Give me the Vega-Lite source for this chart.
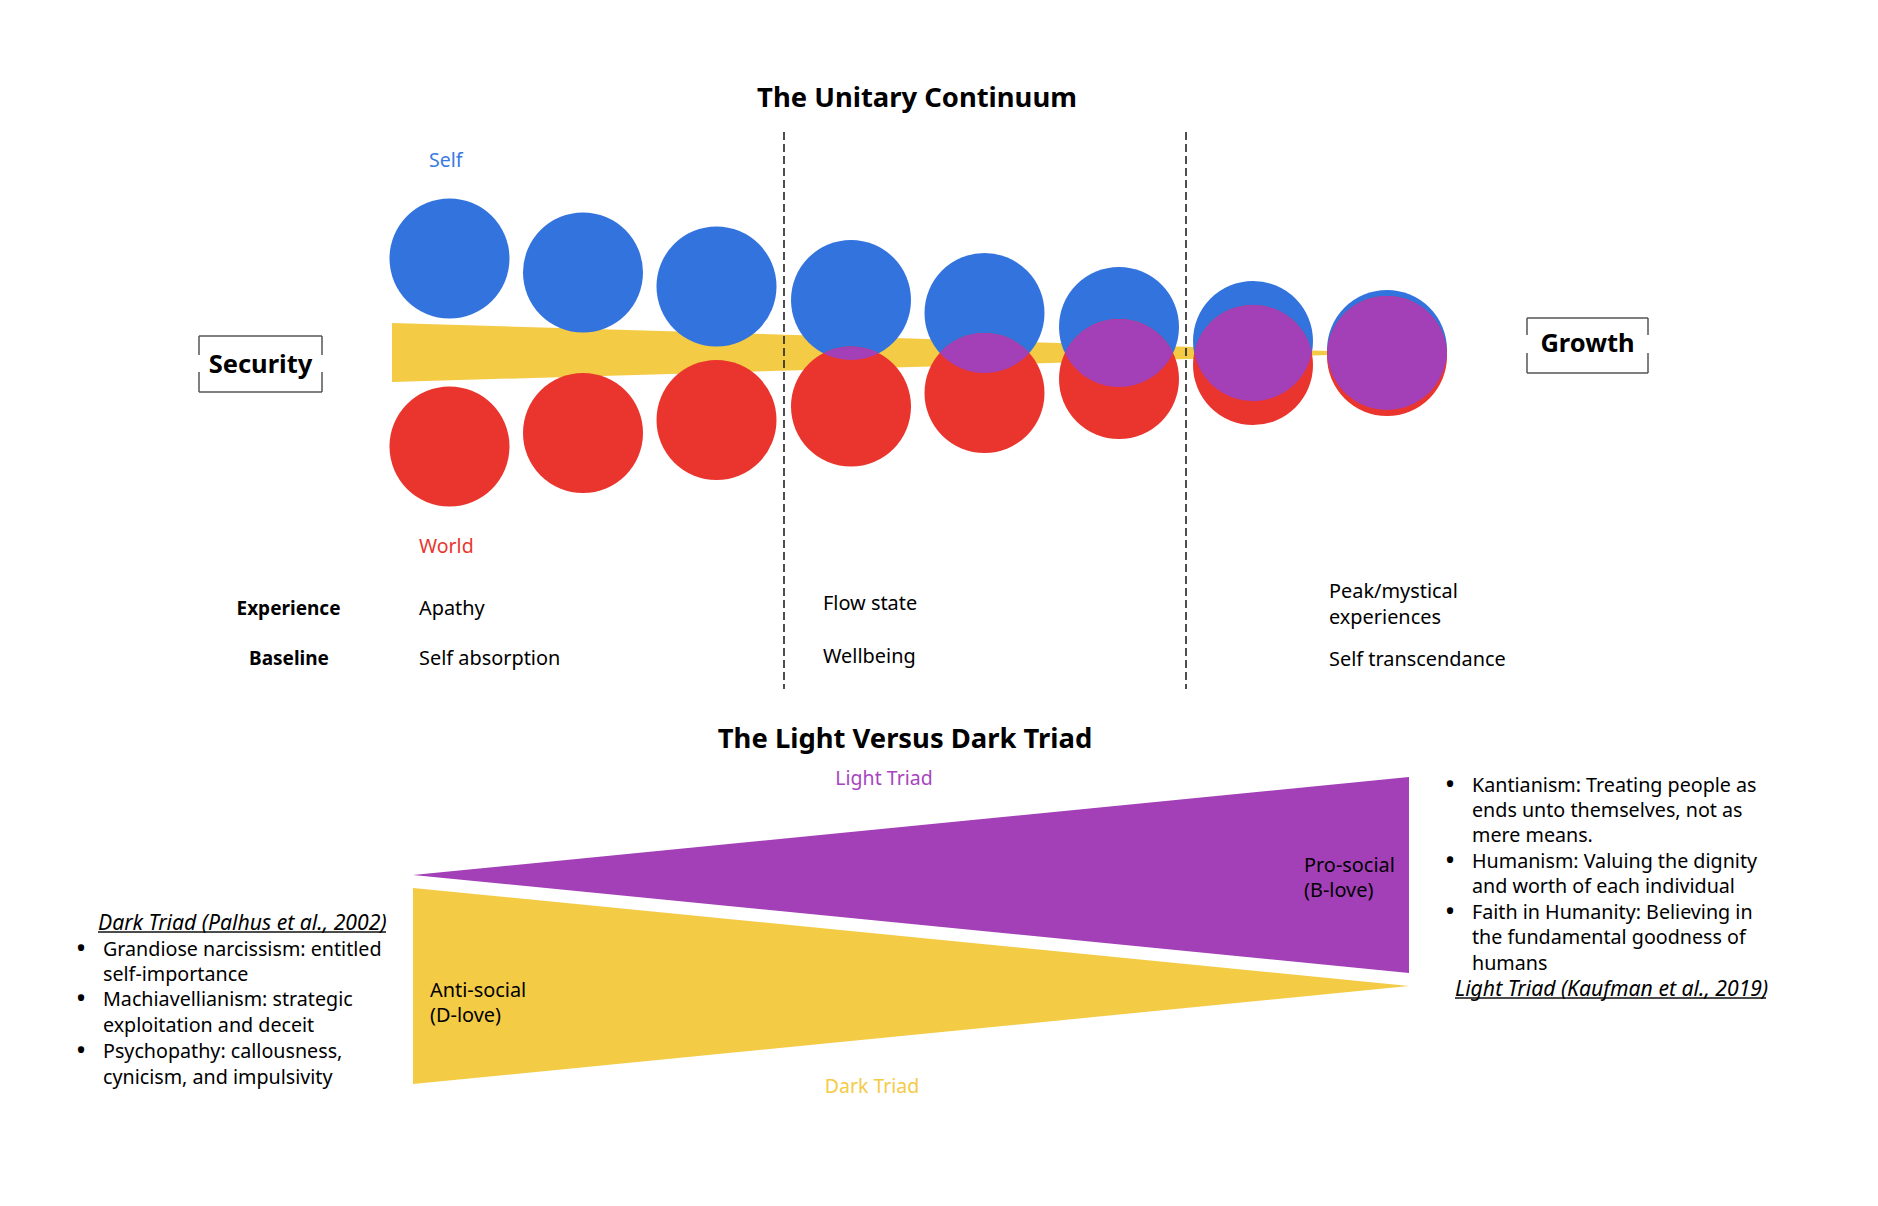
{
  "$schema": "https://vega.github.io/schema/vega-lite/v6.json",
  "width": 1878,
  "height": 1206,
  "autosize": {"type": "fit", "contains": "padding"},
  "padding": 0,
  "background": "white",
  "config": {"view": {"stroke": null}, "font": "Noto Sans"},
  "datasets": {
    "band": [
      {"x": 392, "top": 323, "bottom": 382},
      {"x": 1380, "top": 352.5, "bottom": 353.5}
    ],
    "light": [
      {"x": 413, "top": 875, "bottom": 875},
      {"x": 1409, "top": 777, "bottom": 973}
    ],
    "dark": [
      {"x": 413, "top": 888, "bottom": 1084},
      {"x": 1409, "top": 986, "bottom": 986}
    ],
    "circles": [
      {"stage": "s1", "x": 449.5, "self": 258.5, "world": 446.5},
      {"stage": "s2", "x": 583, "self": 272.5, "world": 433},
      {"stage": "s3", "x": 716.5, "self": 286.5, "world": 420},
      {"stage": "s4", "x": 851, "self": 300, "world": 406.5},
      {"stage": "s5", "x": 984.5, "self": 313, "world": 393},
      {"stage": "s6", "x": 1119, "self": 327, "world": 379},
      {"stage": "s7", "x": 1253, "self": 341, "world": 365},
      {"stage": "s8", "x": 1387, "self": 350, "world": 356}
    ],
    "overlaps": [
      {"stage": "s4", "x": 851, "y": 353.25},
      {"stage": "s5", "x": 984.5, "y": 353},
      {"stage": "s6", "x": 1119, "y": 353},
      {"stage": "s7", "x": 1253, "y": 353},
      {"stage": "s8", "x": 1387, "y": 353}
    ],
    "dashes": [
      {"x": 784, "x2": 784, "y": 132, "y2": 689},
      {"x": 1186, "x2": 1186, "y": 132, "y2": 689}
    ],
    "boxes": [
      {"x": 199, "x2": 322, "y": 336, "y2": 336},
      {"x": 199, "x2": 322, "y": 392, "y2": 392},
      {"x": 199, "x2": 199, "y": 336, "y2": 355},
      {"x": 199, "x2": 199, "y": 372, "y2": 392},
      {"x": 322, "x2": 322, "y": 336, "y2": 355},
      {"x": 322, "x2": 322, "y": 372, "y2": 392},
      {"x": 1527, "x2": 1648, "y": 318, "y2": 318},
      {"x": 1527, "x2": 1648, "y": 373, "y2": 373},
      {"x": 1527, "x2": 1527, "y": 318, "y2": 335},
      {"x": 1527, "x2": 1527, "y": 353, "y2": 373},
      {"x": 1648, "x2": 1648, "y": 318, "y2": 335},
      {"x": 1648, "x2": 1648, "y": 353, "y2": 373}
    ],
    "underlines": [
      {"x": 98, "x2": 386, "y": 932, "y2": 932},
      {"x": 1455, "x2": 1766, "y": 998, "y2": 998}
    ],
    "titles": [
      {"x": 917, "y": 97, "label": "The Unitary Continuum"},
      {"x": 905, "y": 738, "label": "The Light Versus Dark Triad"}
    ],
    "boxlabels": [
      {"x": 260.5, "y": 364, "label": "Security"},
      {"x": 1587.5, "y": 343, "label": "Growth"}
    ],
    "self": [{"x": 429, "y": 159, "label": "Self"}],
    "world": [{"x": 419, "y": 545, "label": "World"}],
    "rowheads": [
      {"x": 288.5, "y": 607, "label": "Experience"},
      {"x": 289, "y": 657, "label": "Baseline"}
    ],
    "stagetext": [
      {"x": 419, "y": 607, "label": "Apathy"},
      {"x": 419, "y": 657, "label": "Self absorption"},
      {"x": 823, "y": 602, "label": "Flow state"},
      {"x": 823, "y": 655, "label": "Wellbeing"},
      {"x": 1329, "y": 590, "label": "Peak/mystical"},
      {"x": 1329, "y": 616, "label": "experiences"},
      {"x": 1329, "y": 658, "label": "Self transcendance"},
      {"x": 1304, "y": 864, "label": "Pro-social"},
      {"x": 1304, "y": 889, "label": "(B-love)"},
      {"x": 430, "y": 989, "label": "Anti-social"},
      {"x": 430, "y": 1014, "label": "(D-love)"}
    ],
    "lighttag": [{"x": 884, "y": 777, "label": "Light Triad"}],
    "darktag": [{"x": 872, "y": 1085, "label": "Dark Triad"}],
    "bullets": [
      {"x": 103, "y": 948, "label": "Grandiose narcissism: entitled"},
      {"x": 103, "y": 973, "label": "self-importance"},
      {"x": 103, "y": 998, "label": "Machiavellianism: strategic"},
      {"x": 103, "y": 1024, "label": "exploitation and deceit"},
      {"x": 103, "y": 1050, "label": "Psychopathy: callousness,"},
      {"x": 103, "y": 1076, "label": "cynicism, and impulsivity"},
      {"x": 1472, "y": 784, "label": "Kantianism: Treating people as"},
      {"x": 1472, "y": 809, "label": "ends unto themselves, not as"},
      {"x": 1472, "y": 834, "label": "mere means."},
      {"x": 1472, "y": 860, "label": "Humanism: Valuing the dignity"},
      {"x": 1472, "y": 885, "label": "and worth of each individual"},
      {"x": 1472, "y": 911, "label": "Faith in Humanity: Believing in"},
      {"x": 1472, "y": 936, "label": "the fundamental goodness of"},
      {"x": 1472, "y": 962, "label": "humans"}
    ],
    "dots": [
      {"x": 81, "y": 948, "label": "•"},
      {"x": 81, "y": 998, "label": "•"},
      {"x": 81, "y": 1050, "label": "•"},
      {"x": 1450, "y": 784, "label": "•"},
      {"x": 1450, "y": 860, "label": "•"},
      {"x": 1450, "y": 911, "label": "•"}
    ],
    "citations": [
      {"x": 98, "y": 922, "label": "Dark Triad (Palhus et al., 2002)"},
      {"x": 1455, "y": 988, "label": "Light Triad (Kaufman et al., 2019)"}
    ]
  },
  "encoding": {
    "x": {"field": "x", "type": "quantitative", "scale": {"domain": [0, 1878], "nice": false, "zero": false}, "axis": null},
    "y": {"field": "y", "type": "quantitative", "scale": {"domain": [0, 1206], "reverse": true, "nice": false, "zero": false}, "axis": null}
  },
  "layer": [
    {
      "data": {"name": "band"},
      "mark": {"type": "area", "color": "#F4CB45", "opacity": 1},
      "encoding": {
        "y": {"field": "top", "type": "quantitative", "scale": {"domain": [0, 1206], "reverse": true, "nice": false, "zero": false}, "axis": null},
        "y2": {"field": "bottom"}
      }
    },
    {
      "data": {"name": "light"},
      "mark": {"type": "area", "color": "#A33FB7", "opacity": 1},
      "encoding": {
        "y": {"field": "top", "type": "quantitative", "scale": {"domain": [0, 1206], "reverse": true, "nice": false, "zero": false}, "axis": null},
        "y2": {"field": "bottom"}
      }
    },
    {
      "data": {"name": "dark"},
      "mark": {"type": "area", "color": "#F4CB45", "opacity": 1},
      "encoding": {
        "y": {"field": "top", "type": "quantitative", "scale": {"domain": [0, 1206], "reverse": true, "nice": false, "zero": false}, "axis": null},
        "y2": {"field": "bottom"}
      }
    },
    {
      "data": {"name": "dashes"},
      "mark": {"type": "rule", "color": "#222222", "strokeWidth": 1.6, "strokeDash": [8, 4]},
      "encoding": {"x2": {"field": "x2"}, "y2": {"field": "y2"}}
    },
    {
      "data": {"name": "circles"},
      "mark": {"type": "circle", "size": 14400, "color": "#3373DE", "opacity": 1},
      "encoding": {
        "y": {"field": "self", "type": "quantitative", "scale": {"domain": [0, 1206], "reverse": true, "nice": false, "zero": false}, "axis": null}
      }
    },
    {
      "data": {"name": "circles"},
      "mark": {"type": "circle", "size": 14400, "color": "#E9352D", "opacity": 1},
      "encoding": {
        "y": {"field": "world", "type": "quantitative", "scale": {"domain": [0, 1206], "reverse": true, "nice": false, "zero": false}, "axis": null}
      }
    },
    {
      "data": {"name": "overlaps"},
      "mark": {"type": "point", "filled": true, "size": 4, "color": "#A33FB7", "opacity": 1, "strokeWidth": 0},
      "encoding": {
        "shape": {
          "field": "stage",
          "type": "nominal",
          "legend": null,
          "scale": {
            "domain": ["s4", "s5", "s6", "s7", "s8"],
            "range": [
              "M-27.65,0A60,60,0,0,1,27.65,0A60,60,0,0,1,-27.65,0Z",
              "M-44.72,0A60,60,0,0,1,44.72,0A60,60,0,0,1,-44.72,0Z",
              "M-54.07,0A60,60,0,0,1,54.07,0A60,60,0,0,1,-54.07,0Z",
              "M-58.79,0A60,60,0,0,1,58.79,0A60,60,0,0,1,-58.79,0Z",
              "M-59.92,0A60,60,0,0,1,59.92,0A60,60,0,0,1,-59.92,0Z"
            ]
          }
        }
      }
    },
    {
      "data": {"name": "boxes"},
      "mark": {"type": "rule", "color": "#555555", "strokeWidth": 1.5},
      "encoding": {"x2": {"field": "x2"}, "y2": {"field": "y2"}}
    },
    {
      "data": {"name": "underlines"},
      "mark": {"type": "rule", "color": "#111111", "strokeWidth": 1.3},
      "encoding": {"x2": {"field": "x2"}, "y2": {"field": "y2"}}
    },
    {
      "data": {"name": "titles"},
      "mark": {"type": "text", "align": "center", "baseline": "middle", "dy": 2, "fontSize": 27.4, "fontWeight": "bold", "color": "#000000"},
      "encoding": {"text": {"field": "label"}}
    },
    {
      "data": {"name": "boxlabels"},
      "mark": {"type": "text", "align": "center", "baseline": "middle", "dy": 1, "fontSize": 25.5, "fontWeight": "bold", "color": "#000000"},
      "encoding": {"text": {"field": "label"}}
    },
    {
      "data": {"name": "self"},
      "mark": {"type": "text", "align": "left", "baseline": "middle", "dy": 2, "fontSize": 19.5, "color": "#3A7AE0"},
      "encoding": {"text": {"field": "label"}}
    },
    {
      "data": {"name": "world"},
      "mark": {"type": "text", "align": "left", "baseline": "middle", "dy": 2, "fontSize": 19.5, "color": "#E9352D"},
      "encoding": {"text": {"field": "label"}}
    },
    {
      "data": {"name": "rowheads"},
      "mark": {"type": "text", "align": "center", "baseline": "middle", "dy": 2, "fontSize": 19, "fontWeight": "bold", "color": "#000000"},
      "encoding": {"text": {"field": "label"}}
    },
    {
      "data": {"name": "stagetext"},
      "mark": {"type": "text", "align": "left", "baseline": "middle", "dy": 2, "fontSize": 19.9, "color": "#000000"},
      "encoding": {"text": {"field": "label"}}
    },
    {
      "data": {"name": "lighttag"},
      "mark": {"type": "text", "align": "center", "baseline": "middle", "dy": 2, "fontSize": 19.5, "color": "#A745C0"},
      "encoding": {"text": {"field": "label"}}
    },
    {
      "data": {"name": "darktag"},
      "mark": {"type": "text", "align": "center", "baseline": "middle", "dy": 2, "fontSize": 19.5, "color": "#F4CB45"},
      "encoding": {"text": {"field": "label"}}
    },
    {
      "data": {"name": "bullets"},
      "mark": {"type": "text", "align": "left", "baseline": "middle", "dy": 2, "fontSize": 19.7, "color": "#000000"},
      "encoding": {"text": {"field": "label"}}
    },
    {
      "data": {"name": "dots"},
      "mark": {"type": "text", "align": "center", "baseline": "middle", "dy": 2, "fontSize": 28, "color": "#000000"},
      "encoding": {"text": {"field": "label"}}
    },
    {
      "data": {"name": "citations"},
      "mark": {"type": "text", "align": "left", "baseline": "middle", "dy": 2, "fontSize": 21.2, "fontStyle": "italic", "color": "#000000"},
      "encoding": {"text": {"field": "label"}}
    }
  ]
}
